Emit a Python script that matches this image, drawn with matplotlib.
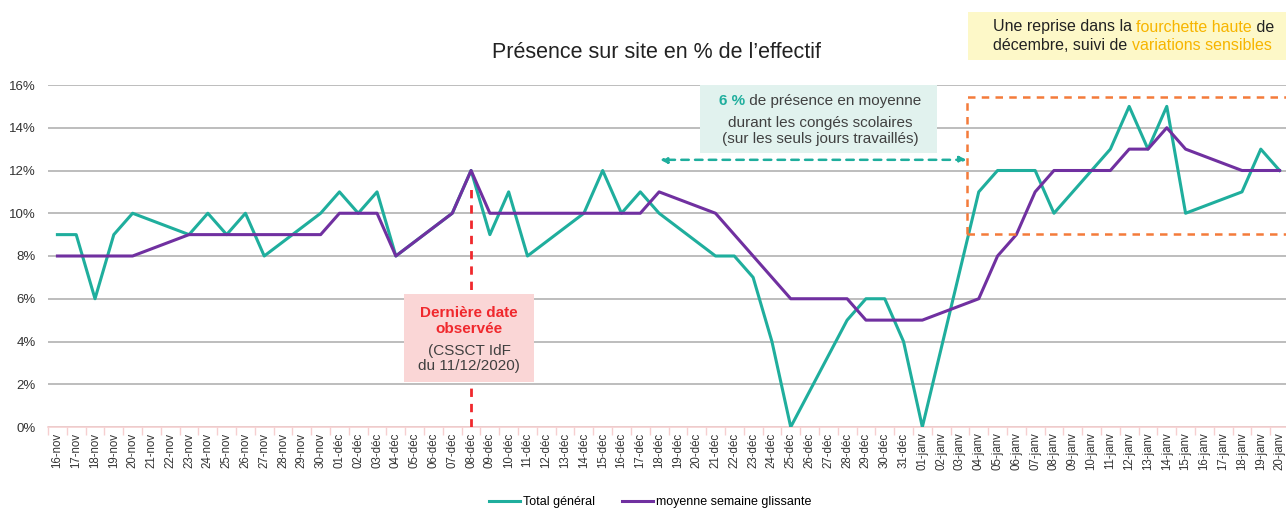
import matplotlib
matplotlib.use("Agg")
import matplotlib.pyplot as plt
from matplotlib.patches import Rectangle
import numpy as np

plt.rcParams['font.family'] = ['Liberation Sans', 'DejaVu Sans']

# day labels, 16 nov 2020 -> 20 janv 2021
days = ([f"{d:02d}-nov" for d in range(16, 31)]
        + [f"{d:02d}-déc" for d in range(1, 32)]
        + [f"{d:02d}-janv" for d in range(1, 21)])

# None = jour non travaillé (week-end), the line joins across it
total_general = [9, 9, 6, 9, 10, None, None, 9, 10, 9, 10, 8, None, None,
                 10, 11, 10, 11, 8, None, None, 10, 12, 9, 11, 8, None, None,
                 10, 12, 10, 11, 10, None, None, 8, 8, 7, 4, 0, None, None,
                 5, 6, 6, 4, 0, None, None, 11, 12, 12, 12, 10, None, None,
                 13, 15, 13, 15, 10, None, None, 11, 13, 12]
moyenne_glissante = [8, 8, 8, 8, 8, None, None, 9, 9, 9, 9, 9, None, None,
                     9, 10, 10, 10, 8, None, None, 10, 12, 10, 10, 10, None, None,
                     10, 10, 10, 10, 11, None, None, 10, 9, 8, 7, 6, None, None,
                     6, 5, 5, 5, 5, None, None, 6, 8, 9, 11, 12, None, None,
                     12, 13, 13, 14, 13, None, None, 12, 12, 12]

yticks = [0, 2, 4, 6, 8, 10, 12, 14, 16]
last_obs = "08-déc"

teal = '#1fae9d'
purple = '#7030a0'
orange = '#f47b3a'
gold = '#f7b500'
dark = '#404040'
W, H = 1286, 508

fig = plt.figure(figsize=(W / 100, H / 100), dpi=100)
ax = fig.add_axes([48 / W, 1 - 427 / H, 1241 / W, 342 / H])
renderer = fig.canvas.get_renderer()


def valid(series):
    xs = [i for i, v in enumerate(series) if v is not None]
    return xs, [series[i] for i in xs]


def rich_line(x_px, y_px, parts, ha='left', **kw):
    # several colours on one line, placed in pixel coordinates
    texts = []
    for s, col, weight in parts:
        texts.append(fig.text(0, 1 - y_px / H, s, color=col, fontweight=weight,
                              va='center', **kw))
    widths = [t.get_window_extent(renderer).width for t in texts]
    x0 = x_px - sum(widths) / 2 if ha == 'center' else x_px
    for t, w in zip(texts, widths):
        t.set_x(x0 / W)
        x0 += w


x, y = valid(total_general)
ax.plot(x, y, color=teal, lw=2.2, label='Total général', zorder=3)
x, y = valid(moyenne_glissante)
ax.plot(x, y, color=purple, lw=2.2, label='moyenne semaine glissante', zorder=3)

ax.set_xlim(-0.5, 65.5)
ax.set_ylim(0, 16)
ax.set_yticks(yticks)
ax.set_yticklabels([f"{v}%" for v in yticks], fontsize=9.5, color='#333333')
ax.yaxis.grid(True, color='#bdbdbd', lw=1.4)
ax.set_axisbelow(True)
ax.tick_params(axis='y', length=0, pad=9)

ax.set_xticks(range(len(days)))
ax.set_xticklabels(days, rotation=90, fontsize=8.3, color='#333333')
ax.set_xticks(np.arange(-0.5, len(days), 1), minor=True)
ax.tick_params(axis='x', which='major', length=0, pad=4)
ax.tick_params(axis='x', which='minor', length=6, color='#f6cfd0', width=1)
for s in ['top', 'right', 'left']:
    ax.spines[s].set_visible(False)
ax.spines['bottom'].set_color('#f6cfd0')
ax.spines['bottom'].set_linewidth(1.2)

fig.text(656 / W, 1 - 52 / H, "Présence sur site en % de l’effectif", ha='center',
         va='center', fontsize=15.5, color='#222222')

# dernière date observée
xo = days.index(last_obs)
ax.plot([xo, xo], [0, 11.2], color='#f0282d', lw=2, ls=(0, (3, 2.5)), zorder=4)
ax.add_patch(Rectangle((18.45, 2.1), 6.9, 4.1, facecolor='#fad6d6',
                       edgecolor='none', zorder=5))
ax.text(21.9, 4.96, "Dernière date\nobservée", ha='center', va='center',
        fontsize=11, color='#f0282d', fontweight='bold', linespacing=1.1, zorder=6)
ax.text(21.9, 3.21, "(CSSCT IdF\ndu 11/12/2020)", ha='center', va='center',
        fontsize=11, color=dark, linespacing=1.15, zorder=6)

# congés scolaires
ax.add_patch(Rectangle((34.15, 12.83), 12.65, 3.17, facecolor='#e1f2ee',
                       edgecolor='none', zorder=5, clip_on=False))
rich_line(820, 101, [("6 %", teal, 'bold'), (" de présence en moyenne", dark, 'normal')],
          ha='center', fontsize=11, zorder=6)
ax.text(40.55, 13.86, "durant les congés scolaires\n(sur les seuls jours travaillés)",
        ha='center', va='center', fontsize=11, color=dark, linespacing=1.2, zorder=6)
ax.annotate("", xy=(31.9, 12.5), xytext=(48.5, 12.5),
            arrowprops=dict(arrowstyle='<|-|>', color=teal, lw=1.8,
                            ls=(0, (3, 2.5)), mutation_scale=10), zorder=6)

# fourchette haute
ax.plot([48.4, 48.4, 66], [9.05, 15.45, 15.45], color=orange, lw=1.8,
        ls=(0, (3, 2.5)), clip_on=False, zorder=4)
ax.plot([48.4, 66], [9.05, 9.05], color=orange, lw=1.8,
        ls=(0, (3, 2.5)), clip_on=False, zorder=4)

fig.patches.append(Rectangle((968 / W, 1 - 60 / H), 318 / W, 48 / H,
                             transform=fig.transFigure, facecolor='#fdf8c8',
                             edgecolor='none', zorder=0))
rich_line(993, 27, [("Une reprise dans la ", '#222222', 'normal'),
                    ("fourchette haute", gold, 'normal'),
                    (" de", '#222222', 'normal')], fontsize=11.5)
rich_line(993, 45, [("décembre, suivi de ", '#222222', 'normal'),
                    ("variations sensibles", gold, 'normal')], fontsize=11.5)

fig.legend(loc='center', bbox_to_anchor=(650 / W, 1 - 502 / H), ncol=2, frameon=False,
           fontsize=9, handlelength=2.5, columnspacing=2.2, handletextpad=0.2)

fig.savefig('out.png', dpi=100)
